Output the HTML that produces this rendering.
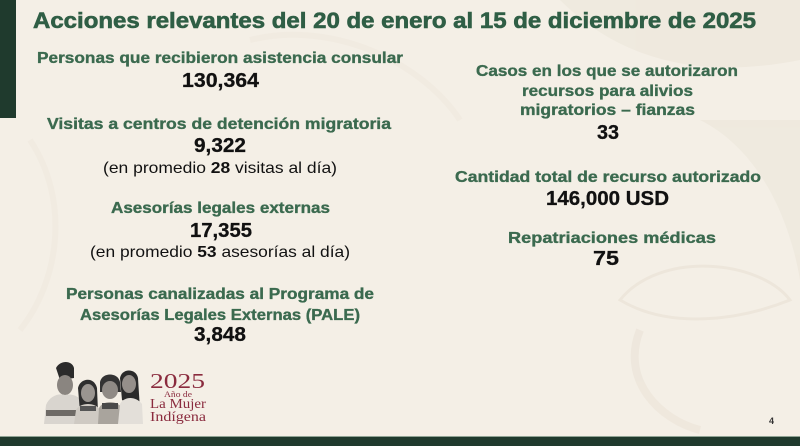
<!DOCTYPE html>
<html><head><meta charset="utf-8"><style>
html,body{margin:0;padding:0;background:#f4efe6;}
svg{display:block;}
text{font-family:"Liberation Sans",sans-serif;}
.t{fill:#2f5e45;font-weight:bold;stroke:#2f5e45;stroke-width:0.6;}
.l{fill:#3b6a4f;font-weight:bold;font-size:16px;stroke:#3b6a4f;stroke-width:0.35;}
.n{fill:#111;font-weight:bold;font-size:20px;stroke:#111;stroke-width:0.3;}
.p{fill:#111;font-size:16px;}
.s{font-family:"Liberation Serif",serif;fill:#8a2b3e;}
</style></head><body>
<svg width="800" height="446" viewBox="0 0 800 446" xmlns="http://www.w3.org/2000/svg">
<rect width="800" height="446" fill="#f4efe6"/>
<!-- faint background leaves -->
<g fill="#eee8dd" opacity="0.8">
<path d="M560 0 C620 60 700 80 800 60 L800 0 Z"/>
<path d="M700 120 C760 150 790 220 800 280 L800 120 Z"/>
<path d="M620 300 C660 250 760 260 790 300 C740 320 670 330 620 300 Z" fill="none" stroke="#ece5d9" stroke-width="3"/>
<path d="M640 330 C620 380 660 420 700 430" fill="none" stroke="#ede6db" stroke-width="8"/>
<path d="M250 40 C330 20 420 60 460 120" fill="none" stroke="#f0eae0" stroke-width="6"/>
<path d="M30 140 C70 200 60 280 20 330" fill="none" stroke="#f0eae0" stroke-width="6"/>
</g>
<!-- left bar -->
<rect x="0" y="0" width="16" height="118" fill="#1f3a2d"/>
<!-- bottom bar -->
<rect x="0" y="436" width="800" height="1" fill="#8fa394"/>
<rect x="0" y="437" width="800" height="9" fill="#1f3a2d"/>

<text class="t" x="33" y="28" font-size="22" textLength="723" lengthAdjust="spacingAndGlyphs">Acciones relevantes del 20 de enero al 15 de diciembre de 2025</text>

<!-- left column -->
<text class="l" x="37" y="63" textLength="366" lengthAdjust="spacingAndGlyphs">Personas que recibieron asistencia consular</text>
<text class="n" x="182" y="87" textLength="77" lengthAdjust="spacingAndGlyphs">130,364</text>

<text class="l" x="47" y="129" textLength="344" lengthAdjust="spacingAndGlyphs">Visitas a centros de detención migratoria</text>
<text class="n" x="194" y="152" textLength="52" lengthAdjust="spacingAndGlyphs">9,322</text>
<text class="p" x="103" y="173" textLength="234" lengthAdjust="spacingAndGlyphs">(en promedio <tspan font-weight="bold">28</tspan> visitas al día)</text>

<text class="l" x="111" y="213" textLength="219" lengthAdjust="spacingAndGlyphs">Asesorías legales externas</text>
<text class="n" x="190" y="237" textLength="62" lengthAdjust="spacingAndGlyphs">17,355</text>
<text class="p" x="90" y="257" textLength="260" lengthAdjust="spacingAndGlyphs">(en promedio <tspan font-weight="bold">53</tspan> asesorías al día)</text>

<text class="l" x="66" y="299" textLength="308" lengthAdjust="spacingAndGlyphs">Personas canalizadas al Programa de</text>
<text class="l" x="80" y="320" textLength="280" lengthAdjust="spacingAndGlyphs">Asesorías Legales Externas (PALE)</text>
<text class="n" x="194" y="341" textLength="52" lengthAdjust="spacingAndGlyphs">3,848</text>

<!-- right column -->
<text class="l" x="476" y="76" textLength="262" lengthAdjust="spacingAndGlyphs">Casos en los que se autorizaron</text>
<text class="l" x="522" y="96" textLength="171" lengthAdjust="spacingAndGlyphs">recursos para alivios</text>
<text class="l" x="520" y="115" textLength="175" lengthAdjust="spacingAndGlyphs">migratorios – fianzas</text>
<text class="n" x="597" y="139" textLength="22" lengthAdjust="spacingAndGlyphs">33</text>

<text class="l" x="455" y="182" textLength="306" lengthAdjust="spacingAndGlyphs">Cantidad total de recurso autorizado</text>
<text class="n" x="546" y="205" textLength="123" lengthAdjust="spacingAndGlyphs">146,000 USD</text>

<text class="l" x="508" y="243" textLength="208" lengthAdjust="spacingAndGlyphs">Repatriaciones médicas</text>
<text class="n" x="593" y="265" textLength="26" lengthAdjust="spacingAndGlyphs">75</text>

<!-- page number -->
<text x="769" y="424" font-size="9" font-weight="bold" font-family="Liberation Sans, sans-serif" fill="#333">4</text>

<!-- logo figures -->
<g>
<path d="M56 368 C60 360 72 360 74 368 L74 378 L60 380 Z" fill="#2b2b2b"/>
<ellipse cx="65" cy="385" rx="8" ry="10" fill="#8a8580"/>
<path d="M44 424 L46 405 C50 396 58 393 65 395 C74 393 82 398 84 406 L86 424 Z" fill="#d9d5cf"/>
<rect x="46" y="410" width="38" height="6" fill="#6e6a66"/>
<path d="M78 388 C80 378 94 376 97 388 L98 412 L80 412 Z" fill="#2e2e2e"/>
<ellipse cx="88" cy="393" rx="7" ry="9" fill="#9a9590"/>
<path d="M74 424 L76 410 C80 402 96 402 100 410 L101 424 Z" fill="#cfcac3"/>
<rect x="80" y="406" width="16" height="5" fill="#555"/>
<path d="M100 382 C102 372 118 372 120 382 L121 392 L100 392 Z" fill="#333"/>
<ellipse cx="110" cy="390" rx="8" ry="9" fill="#8f8a85"/>
<path d="M98 424 L99 408 C103 400 117 400 122 408 L123 424 Z" fill="#a9a49d"/>
<rect x="102" y="403" width="16" height="6" fill="#4a4a4a"/>
<path d="M120 378 C122 368 136 368 138 378 L140 410 L122 400 Z" fill="#2a2a2a"/>
<ellipse cx="129" cy="384" rx="7" ry="9" fill="#958f8a"/>
<path d="M118 424 L120 404 C124 396 136 396 142 404 L143 424 Z" fill="#e3dfd9"/>
</g>
<!-- logo text -->
<text class="s" x="150" y="388" font-size="21" textLength="55" lengthAdjust="spacingAndGlyphs">2025</text>
<text class="s" x="164" y="397" font-size="8" textLength="28" lengthAdjust="spacingAndGlyphs">Año de</text>
<text class="s" x="150" y="408" font-size="14" textLength="56" lengthAdjust="spacingAndGlyphs">La Mujer</text>
<text class="s" x="150" y="421" font-size="14" textLength="56" lengthAdjust="spacingAndGlyphs">Indígena</text>
</svg>
</body></html>
